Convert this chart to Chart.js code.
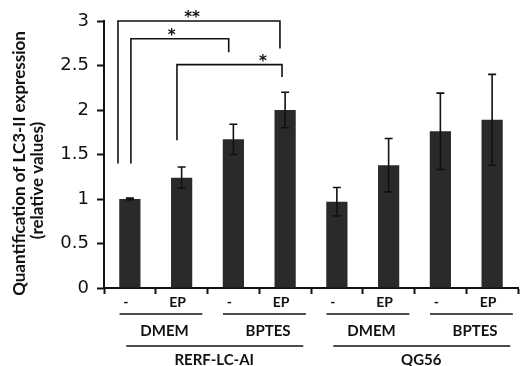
<!DOCTYPE html>
<html>
<head>
<meta charset="utf-8">
<script src="https://cdn.jsdelivr.net/npm/chart.js@4.4.0/dist/chart.umd.min.js"></script>
<style>
  html, body { margin: 0; padding: 0; background: #fff; }
  #wrap { width: 520px; height: 366px; position: relative; }
</style>
</head>
<body>
<div id="wrap"><canvas id="lc3Chart"></canvas></div>
<script>
// treatment under each bar
const treatments = ["-", "EP", "-", "EP", "-", "EP", "-", "EP"];
// medium groups (pairs of bars) and cell lines (groups of four)
const mediumLabels = ["DMEM", "BPTES", "DMEM", "BPTES"];
const cellLabels = ["RERF-LC-AI", "QG56"];

const means = [1.0, 1.24, 1.67, 2.0, 0.97, 1.38, 1.76, 1.89];
const errors = [0.01, 0.12, 0.17, 0.2, 0.16, 0.3, 0.43, 0.51];

const yTicks = [0, 0.5, 1, 1.5, 2, 2.5, 3];
const yTitle = ["Quantification of LC3-II expression", "(relative values)"];

// significance brackets: left/right bar position, top value, foot values, label position
const bracketFrom = [-0.23, 0.02, 0.91];
const bracketTo = [2.9, 1.91, 2.94];
const bracketTop = [3.0, 2.8, 2.51];
const bracketLeftFoot = [1.4, 1.4, 1.66];
const bracketRightFoot = [2.69, 2.65, 2.37];
const bracketText = ["**", "*", "*"];
const bracketTextAt = [1.2, 0.81, 2.57];

const INK = "#111";
const BAR = "#2a2a2a";

const errorBars = {
  id: "errorBars",
  afterDatasetsDraw(chart) {
    const ctx = chart.ctx;
    const y = chart.scales.y;
    const meta = chart.getDatasetMeta(0);
    ctx.save();
    ctx.strokeStyle = INK;
    ctx.lineWidth = 1.6;
    meta.data.forEach((bar, i) => {
      const top = y.getPixelForValue(means[i] + errors[i]);
      const bot = y.getPixelForValue(means[i] - errors[i]);
      ctx.beginPath();
      ctx.moveTo(bar.x, top);
      ctx.lineTo(bar.x, bot);
      ctx.moveTo(bar.x - 4, top);
      ctx.lineTo(bar.x + 4, top);
      ctx.moveTo(bar.x - 4, bot);
      ctx.lineTo(bar.x + 4, bot);
      ctx.stroke();
    });
    ctx.restore();
  }
};

const annotations = {
  id: "annotations",
  afterDraw(chart) {
    const ctx = chart.ctx;
    const x = chart.scales.x;
    const y = chart.scales.y;
    const area = chart.chartArea;
    ctx.save();
    ctx.strokeStyle = INK;
    ctx.fillStyle = INK;
    ctx.lineWidth = 1.6;
    ctx.textAlign = "center";
    ctx.textBaseline = "middle";

    // y axis title, two rotated lines
    const midY = (area.top + area.bottom) / 2;
    ctx.font = "bold 17px Lato";
    [[20, midY + 9], [38, midY + 26]].forEach((pos, i) => {
      ctx.save();
      ctx.translate(pos[0], pos[1]);
      ctx.rotate(-Math.PI / 2);
      ctx.fillText(yTitle[i], 0, 0);
      ctx.restore();
    });

    // brackets
    ctx.font = "bold 15px 'DejaVu Sans'";
    bracketText.forEach((txt, i) => {
      const x1 = x.getPixelForValue(bracketFrom[i]);
      const x2 = x.getPixelForValue(bracketTo[i]);
      const yt = y.getPixelForValue(bracketTop[i]);
      ctx.beginPath();
      ctx.moveTo(x1, y.getPixelForValue(bracketLeftFoot[i]));
      ctx.lineTo(x1, yt);
      ctx.lineTo(x2, yt);
      ctx.lineTo(x2, y.getPixelForValue(bracketRightFoot[i]));
      ctx.stroke();
      ctx.fillText(txt, x.getPixelForValue(bracketTextAt[i]), yt - 3);
    });

    // medium rows
    const base = area.bottom;
    ctx.font = "bold 15px Lato";
    mediumLabels.forEach((lbl, g) => {
      const i0 = g * 2, i1 = i0 + 1;
      ctx.beginPath();
      ctx.moveTo(x.getPixelForValue(i0 - 0.2), base + 26);
      ctx.lineTo(x.getPixelForValue(i1 + 0.4), base + 26);
      ctx.stroke();
      ctx.fillText(lbl, x.getPixelForValue((i0 + i1) / 2 + 0.17), base + 43);
    });

    // cell line rows
    cellLabels.forEach((lbl, g) => {
      const i0 = g * 4, i1 = i0 + 3;
      ctx.beginPath();
      ctx.moveTo(x.getPixelForValue(i0 - 0.07), base + 58);
      ctx.lineTo(x.getPixelForValue(i1 + 0.35), base + 58);
      ctx.stroke();
      ctx.fillText(lbl, x.getPixelForValue((i0 + i1) / 2 + 0.13), base + 72);
    });
    ctx.restore();
  }
};

new Chart(document.getElementById("lc3Chart"), {
  type: "bar",
  data: {
    labels: treatments,
    datasets: [{
      data: means,
      backgroundColor: BAR,
      borderWidth: 0,
      barPercentage: 0.41,
      categoryPercentage: 1
    }]
  },
  options: {
    responsive: true,
    maintainAspectRatio: false,
    animation: false,
    devicePixelRatio: 1,
    layout: { padding: { top: 21, right: 2, left: 0, bottom: 0 } },
    plugins: { legend: { display: false }, tooltip: { enabled: false } },
    scales: {
      x: {
        offset: true,
        grid: { offset: true, drawOnChartArea: false, tickLength: 6, tickWidth: 2, tickColor: INK },
        border: { color: INK, width: 2 },
        ticks: {
          color: INK,
          font: { family: "Lato", weight: "bold", size: 14 },
          padding: 0,
          labelOffset: -4
        },
        afterFit(scale) { scale.height = 78; }
      },
      y: {
        min: 0,
        max: 3,
        afterBuildTicks(scale) { scale.ticks = yTicks.map(v => ({ value: v })); },
        grid: { drawOnChartArea: false, tickLength: 7, tickWidth: 2, tickColor: INK },
        border: { color: INK, width: 2 },
        ticks: {
          color: INK,
          font: { family: "DejaVu Sans", size: 18 },
          padding: 8,
          callback: v => String(v)
        },
        afterFit(scale) { scale.width = 104; }
      }
    }
  },
  plugins: [errorBars, annotations]
});
</script>
</body>
</html>
